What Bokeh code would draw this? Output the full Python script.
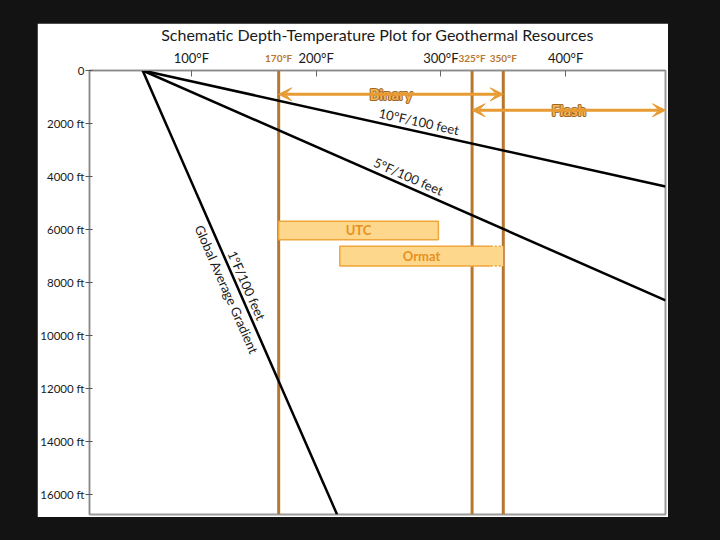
from bokeh.plotting import figure
from bokeh.models import (Range1d, FixedTicker, LinearAxis, Arrow, VeeHead, Span,
                          ColumnDataSource, Spacer, GlobalInlineStyleSheet)
from bokeh.layouts import column, row
from bokeh.core.properties import value
from bokeh.embed import file_html
from bokeh.resources import INLINE

# ---------------- data ----------------
surface_temp = 61                      # °F at 0 ft
gradient_names = ["10°F/100 feet", "5°F/100 feet", "1°F/100 feet"]
gradient_end_temp = [480, 480, 216.8]
gradient_end_depth = [4377, 8679, 16766]

temp_ticks = [100, 200, 300, 400]
temp_tick_labels = ["100°F", "200°F", "300°F", "400°F"]
depth_ticks = [0, 2000, 4000, 6000, 8000, 10000, 12000, 14000, 16000]
depth_tick_labels = ["0", "2000 ft", "4000 ft", "6000 ft", "8000 ft",
                     "10000 ft", "12000 ft", "14000 ft", "16000 ft"]

threshold_temps = [170, 325, 350]
threshold_labels = ["170°F", "325°F", "350°F"]

plant_types = ["Binary", "Flash"]
plant_temp_start = [170, 325]
plant_temp_end = [350, 480]
plant_depth = [900, 1500]

bar_names = ["UTC", "Ormat"]
bar_temp_left = [170, 219]
bar_temp_right = [298, 350]
bar_depth_top = [5690, 6640]
bar_depth_bottom = [6390, 7385]
ormat_solid_end = 340

temp_min, temp_max = 18.4, 480
depth_max = 16766

# ---------------- styling ----------------
FONT = value("Lato")
BROWN = "#b8772f"
ORANGE = "#e89a33"
BAR_FILL = "#fdd88c"
BAR_LINE = "#f0a53a"
BAR_TEXT = "#e8901e"

p = figure(width=631, height=494, output_backend="svg", toolbar_location=None,
           x_range=Range1d(temp_min, temp_max), y_range=Range1d(depth_max, 0),
           x_axis_location="above",
           min_border_left=51, min_border_right=3, min_border_bottom=3, min_border_top=47,
           background_fill_color="white", border_fill_color="white",
           outline_line_color="#9a9a9a", outline_line_width=2)
p.grid.visible = False

p.title.text = "Schematic Depth-Temperature Plot for Geothermal Resources"
p.title.align = "center"
p.title.vertical_align = "top"
p.title.text_font = "Lato"
p.title.text_font_style = "normal"
p.title.text_font_size = "16px"
p.title.text_color = "#1a1a1a"
p.title.text_line_height = 0.8
p.title.standoff = 1

xa = p.xaxis[0]
xa.ticker = FixedTicker(ticks=temp_ticks)
xa.major_label_overrides = dict(zip(temp_ticks, temp_tick_labels))
xa.major_tick_in = 6
xa.major_tick_out = 0
xa.minor_tick_line_color = None
xa.axis_line_color = "#8a8a8a"
xa.major_tick_line_color = "#666"
xa.major_label_text_font = "Lato"
xa.major_label_text_font_size = "13px"
xa.major_label_text_color = "#1a1a1a"
xa.major_label_standoff = 5

# threshold temperature labels as a second, overlapping top axis
ta = LinearAxis(ticker=FixedTicker(ticks=threshold_temps),
                major_label_overrides=dict(zip(threshold_temps, threshold_labels)),
                major_tick_in=0, major_tick_out=0, minor_tick_line_color=None,
                major_tick_line_color=None, axis_line_color=None,
                major_label_text_font="Lato", major_label_text_font_style="bold",
                major_label_text_font_size="10px", major_label_text_color=BROWN,
                major_label_standoff=-17)
p.add_layout(ta, "above")

ya = p.yaxis[0]
ya.ticker = FixedTicker(ticks=depth_ticks)
ya.major_label_overrides = dict(zip(depth_ticks, depth_tick_labels))
ya.major_tick_in = 3
ya.major_tick_out = 4
ya.minor_tick_line_color = None
ya.axis_line_color = "#8a8a8a"
ya.major_tick_line_color = "#555"
ya.major_label_text_font = "Lato"
ya.major_label_text_font_size = "11.5px"
ya.major_label_text_color = "#1a1a1a"
ya.major_label_standoff = 1

# threshold verticals
for t in threshold_temps:
    p.add_layout(Span(location=t, dimension="height", line_color=BROWN,
                      line_width=3, level="underlay"))

# bars
p.quad(left=bar_temp_left[:1], right=bar_temp_right[:1],
       top=bar_depth_top[:1], bottom=bar_depth_bottom[:1],
       fill_color=BAR_FILL, line_color=BAR_LINE, line_width=1.5)
p.quad(left=bar_temp_left[1:], right=bar_temp_right[1:],
       top=bar_depth_top[1:], bottom=bar_depth_bottom[1:],
       fill_color=BAR_FILL, line_color=None)
ol, ot, ob = bar_temp_left[1], bar_depth_top[1], bar_depth_bottom[1]
p.line(x=[ormat_solid_end, ol, ol, ormat_solid_end], y=[ot, ot, ob, ob],
       line_color=BAR_LINE, line_width=1.5)
p.multi_line(xs=[[ormat_solid_end, bar_temp_right[1]]] * 2, ys=[[ot, ot], [ob, ob]],
             line_color=BAR_LINE, line_width=1.5, line_dash="2 2")
bar_mid_x = [(a + b) / 2 for a, b in zip(bar_temp_left, bar_temp_right)]
bar_mid_y = [(a + b) / 2 for a, b in zip(bar_depth_top, bar_depth_bottom)]
p.text(x=bar_mid_x, y=bar_mid_y, text=bar_names, text_font=FONT,
       text_font_style="bold", text_font_size="13px", text_color=BAR_TEXT,
       text_align="center", text_baseline="middle")

# gradient lines
src = ColumnDataSource(dict(x0=[surface_temp] * 3, y0=[0] * 3,
                            x1=gradient_end_temp, y1=gradient_end_depth))
p.segment(x0="x0", y0="y0", x1="x1", y1="y1", source=src,
          line_color="black", line_width=2.5)

# gradient texts
txt = dict(text_font=FONT, text_font_size="13px", text_color="#1a1a1a",
           text_align="center", text_baseline="middle")
p.text(x=[282.4], y=[1925], text=[gradient_names[0]], angle=-0.218, **txt)
p.text(x=[274], y=[4000], text=[gradient_names[1]], angle=-0.414, **txt)
p.text(x=[144.4], y=[8113], text=[gradient_names[2]], angle=-1.157, **txt)
p.text(x=[128.4], y=[8264], text=["Global Average Gradient"], angle=-1.157, **txt)

# plant-type arrows
asrc = ColumnDataSource(dict(x0=plant_temp_start, x1=plant_temp_end,
                             y=plant_depth))
p.add_layout(Arrow(x_start="x0", y_start="y", x_end="x1", y_end="y", source=asrc,
                   line_color=ORANGE, line_width=3,
                   start=VeeHead(size=13, fill_color=ORANGE, line_color=ORANGE, line_width=1),
                   end=VeeHead(size=13, fill_color=ORANGE, line_color=ORANGE, line_width=1)))
plant_mid = [(a + b) / 2 for a, b in zip(plant_temp_start, plant_temp_end)]
p.rect(x=plant_mid, y=plant_depth, width=[64, 56], height=18,
       width_units="screen", height_units="screen",
       fill_color="white", line_color=None)
ptxt = dict(text_font=FONT, text_font_style="bold", text_font_size="15px",
            text_align="center", text_baseline="middle")
p.text(x=plant_mid, y=plant_depth, text=plant_types, text_color="#9c6628",
       text_outline_color="#9c6628", **ptxt)
p.text(x=plant_mid, y=plant_depth, text=plant_types, text_color="#f6b650", **ptxt)

layout = column(Spacer(height=23), row(Spacer(width=37), p))
layout.stylesheets = [GlobalInlineStyleSheet(
    css="html, body { margin: 0 !important; padding: 0; background-color: #131313; }")]

open("out.html", "w").write(file_html(layout, INLINE))
